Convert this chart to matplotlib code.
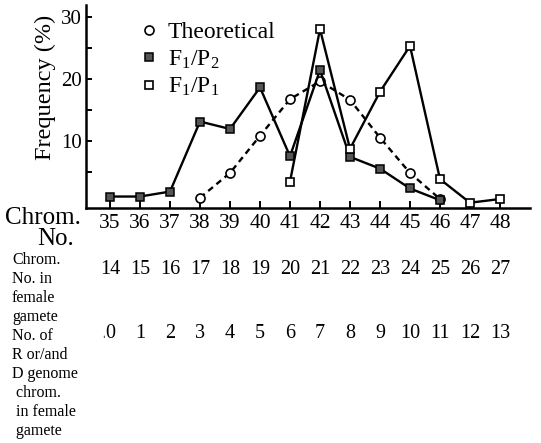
import matplotlib
matplotlib.use("Agg")
import matplotlib.pyplot as plt
import matplotlib.transforms as mtransforms
from matplotlib.lines import Line2D

plt.rcParams['font.family'] = ['Liberation Serif', 'DejaVu Serif']
plt.rcParams['mathtext.fontset'] = 'custom'
plt.rcParams['mathtext.rm'] = 'Liberation Serif'
plt.rcParams['mathtext.it'] = 'Liberation Serif:italic'

# ---- data ----
chrom_no = [35, 36, 37, 38, 39, 40, 41, 42, 43, 44, 45, 46, 47, 48]
female_chrom = ['14', '15', '16', '17', '18', '19', '20', '21', '22', '23', '24', '25', '26', '27']
rd_chrom = ['0', '1', '2', '3', '4', '5', '6', '7', '8', '9', '10', '11', '12', '13']

theo_x = [38, 39, 40, 41, 42, 43, 44, 45, 46]
theo_y = [0.8, 4.8, 10.8, 16.7, 19.6, 16.6, 10.5, 4.8, 0.6]

p2_x = [35, 36, 37, 38, 39, 40, 41, 42, 43, 44, 45, 46]
p2_y = [1.0, 1.0, 1.8, 13.1, 11.9, 18.6, 7.5, 21.4, 7.4, 5.5, 2.3, 0.4]

p1_x = [41, 42, 43, 44, 45, 46, 47, 48]
p1_y = [3.4, 28.0, 8.7, 17.9, 25.3, 3.8, 0.0, 0.6]

y_major = [10, 20, 30]
y_minor = [5, 15, 25]

W, H = 541, 443
fig = plt.figure(figsize=(W / 100, H / 100), dpi=100)
ax = fig.add_axes([86 / W, 1 - 208 / H, (530 - 86) / W, (208 - 5) / H])

lw = 1.7
ax.plot(theo_x, theo_y, color='black', lw=lw, linestyle=(0, (2.6, 1.9)),
        marker='o', ms=6.5, mfc='white', mec='black', mew=1.2, zorder=2)
ax.plot(p2_x, p2_y, color='black', lw=lw, marker='s', ms=5.8,
        mfc='#555555', mec='black', mew=1.1, zorder=3)
ax.plot(p1_x, p1_y, color='black', lw=lw, marker='s', ms=5.8,
        mfc='white', mec='black', mew=1.2, zorder=4)

ax.set_xlim(34.2, 49.0)
ax.set_ylim(-0.85, 31.9)

for s in ['top', 'right']:
    ax.spines[s].set_visible(False)
for s in ['left', 'bottom']:
    ax.spines[s].set_linewidth(1.8)

ax.set_xticks(chrom_no)
ax.set_xticklabels([str(c) for c in chrom_no], fontsize=15.5)
ax.set_yticks(y_major)
ax.set_yticklabels([str(v) for v in y_major], fontsize=15)
ax.set_yticks(y_minor, minor=True)
ax.tick_params(axis='x', direction='in', length=5, width=1.4, pad=4)
ax.tick_params(axis='y', which='both', direction='in', length=4, width=1.4, pad=3)

# legend
handles = [
    Line2D([], [], linestyle='none', marker='o', ms=6.5, mfc='white', mec='black', mew=1.2),
    Line2D([], [], linestyle='none', marker='s', ms=5.8, mfc='#555555', mec='black', mew=1.1),
    Line2D([], [], linestyle='none', marker='s', ms=5.8, mfc='white', mec='black', mew=1.2),
]
labels = ['Theoretical', r'F$_1$/P$_2$', r'F$_1$/P$_1$']
ax.legend(handles, labels, loc='upper left', bbox_to_anchor=(0.126, 0.918),
          frameon=False, fontsize=17, handlelength=0.6, handletextpad=0.5,
          labelspacing=0.22, borderpad=0, borderaxespad=0)

# y label
fig.text(45 / W, 1 - 87 / H, 'Frequency (%)', rotation=90, ha='center', va='center', fontsize=17.5)

# left side labels
fig.text(5 / W, 1 - 218 / H, 'Chrom.', ha='left', va='center', fontsize=18)
fig.text(37 / W, 1 - 239 / H, 'No.', ha='left', va='center', fontsize=18)

lines = ['Chrom.', 'No. in', 'female', 'gamete',
         'No. of', 'R or/and', 'D genome', ' chrom.', ' in female', ' gamete']
y0, pitch = 260, 19
for i, t in enumerate(lines):
    fig.text(12 / W, 1 - (y0 + i * pitch) / H, t, ha='left', va='center', fontsize=11.5)

# additional numeric rows aligned with chromosome numbers
trans = mtransforms.blended_transform_factory(ax.transData, fig.transFigure)
for x, lab in zip(chrom_no, female_chrom):
    ax.text(x, 1 - 270 / H, lab, transform=trans, ha='center', va='center', fontsize=14.5, clip_on=False)
for x, lab in zip(chrom_no, rd_chrom):
    ax.text(x, 1 - 333 / H, lab, transform=trans, ha='center', va='center', fontsize=14.5, clip_on=False)
# small stray mark before the first value of the last row
fig.text(103 / W, 1 - 331 / H, 'ˌ', ha='center', va='center', fontsize=10)

fig.savefig('out.png', dpi=100)
